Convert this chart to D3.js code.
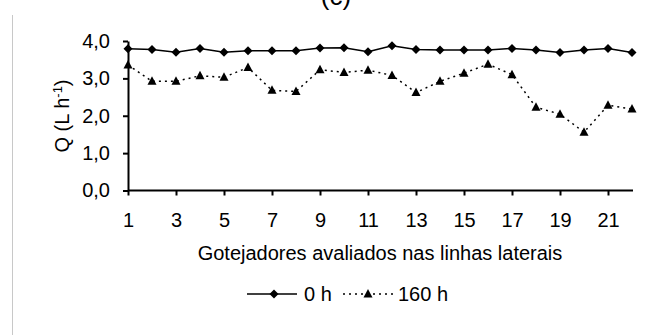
<!DOCTYPE html>
<html>
<head>
<meta charset="utf-8">
<script src="https://cdn.jsdelivr.net/npm/d3@7/dist/d3.min.js"></script>
<style>
  html, body { margin: 0; padding: 0; background: #fff; }
  svg { display: block; }
  text { font-family: "Liberation Sans", Arial, sans-serif; fill: #000; }
</style>
</head>
<body>
<svg id="chart" width="645" height="335"></svg>
<script>
// Emitter index along the lateral lines
const emitters = d3.range(1, 23);
// Flow rate Q (L h-1) at 0 h and after 160 h of operation
const flow0h = [3.79, 3.77, 3.70, 3.80, 3.70, 3.74, 3.74, 3.74, 3.81, 3.82, 3.71,
                3.87, 3.77, 3.76, 3.76, 3.76, 3.80, 3.76, 3.69, 3.76, 3.80, 3.69];
const flow160h = [3.36, 2.92, 2.92, 3.07, 3.03, 3.29, 2.68, 2.65, 3.23, 3.16, 3.22,
                  3.08, 2.62, 2.92, 3.14, 3.38, 3.10, 2.23, 2.04, 1.56, 2.28, 2.18];
const xTickValues = [1, 3, 5, 7, 9, 11, 13, 15, 17, 19, 21];
const yTickValues = [0, 1, 2, 3, 4];
const seriesNames = ["0 h", "160 h"];

const svg = d3.select("#chart");
const fmt = v => d3.format(".1f")(v).replace(".", ",");
const FS = "20px";

const x = d3.scaleLinear().domain([1, 22]).range([128, 632]);
const y = d3.scaleLinear().domain([0, 4]).range([190.5, 41]);

// frame line on the left edge
svg.append("line").attr("x1", 12.5).attr("x2", 12.5).attr("y1", 15).attr("y2", 335)
  .attr("stroke", "#c8c8c8").attr("stroke-width", 1);

// panel title (partly above the page edge)
svg.append("text").attr("x", 336).attr("y", 5).attr("text-anchor", "middle")
  .style("font-size", "26px").text("(c)");

// axes
const xAxis = svg.append("g").attr("transform", `translate(0,${y(0)})`)
  .call(d3.axisBottom(x).tickValues(xTickValues).tickSize(5).tickSizeOuter(0).tickPadding(17).tickFormat(d3.format("d")));
xAxis.select(".domain").attr("d", `M${x(1)},0H${x(22) + 1}`);
const yAxis = svg.append("g").attr("transform", `translate(${x(1)},0)`)
  .call(d3.axisLeft(y).tickValues(yTickValues).tickSize(5).tickSizeOuter(0).tickPadding(13).tickFormat(fmt));
[xAxis, yAxis].forEach(g => {
  g.select(".domain").attr("stroke", "#000").attr("stroke-width", 2);
  g.selectAll(".tick line").attr("stroke", "#000").attr("stroke-width", 2);
  g.selectAll(".tick text").style("font-size", FS).attr("fill", "#000")
    .style("font-family", "'Liberation Sans', Arial, sans-serif");
});

// axis titles
svg.append("text").attr("x", 380).attr("y", 260).attr("text-anchor", "middle")
  .style("font-size", FS).text("Gotejadores avaliados nas linhas laterais");
const yt = svg.append("text").attr("transform", "translate(69,116) rotate(-90)")
  .attr("text-anchor", "middle").style("font-size", FS);
yt.append("tspan").text("Q (L h");
yt.append("tspan").attr("dy", -7).style("font-size", "13px").text("-1");
yt.append("tspan").attr("dy", 7).text(")");

// marker shapes
const diamond = (cx, cy) => `M${cx},${cy - 4.5}L${cx + 4.5},${cy}L${cx},${cy + 4.5}L${cx - 4.5},${cy}Z`;
const triangle = (cx, cy) => `M${cx},${cy - 5}L${cx + 4.5},${cy + 3.5}L${cx - 4.5},${cy + 3.5}Z`;

const line = d3.line().x((d, i) => x(emitters[i])).y(d => y(d));

// 160 h series: dotted line with triangles
svg.append("path").datum(flow160h).attr("d", line).attr("fill", "none")
  .attr("stroke", "#000").attr("stroke-width", 1.5).attr("stroke-dasharray", "2,4");
svg.append("g").selectAll("path").data(flow160h).join("path")
  .attr("d", (d, i) => triangle(x(emitters[i]), y(d))).attr("fill", "#000");

// 0 h series: solid line with diamonds
svg.append("path").datum(flow0h).attr("d", line).attr("fill", "none")
  .attr("stroke", "#000").attr("stroke-width", 1.5);
svg.append("g").selectAll("path").data(flow0h).join("path")
  .attr("d", (d, i) => diamond(x(emitters[i]), y(d))).attr("fill", "#000");

// legend
const ly = 294;
const lg = svg.append("g");
lg.append("line").attr("x1", 247).attr("x2", 297).attr("y1", ly).attr("y2", ly)
  .attr("stroke", "#000").attr("stroke-width", 1.5);
lg.append("path").attr("d", diamond(274, ly)).attr("fill", "#000");
lg.append("text").attr("x", 304).attr("y", ly + 7).style("font-size", FS).text(seriesNames[0]);
lg.append("line").attr("x1", 343).attr("x2", 393).attr("y1", ly).attr("y2", ly)
  .attr("stroke", "#000").attr("stroke-width", 1.5).attr("stroke-dasharray", "2,4");
lg.append("path").attr("d", triangle(368, ly)).attr("fill", "#000");
lg.append("text").attr("x", 398).attr("y", ly + 7).style("font-size", FS).text(seriesNames[1]);
</script>
</body>
</html>
